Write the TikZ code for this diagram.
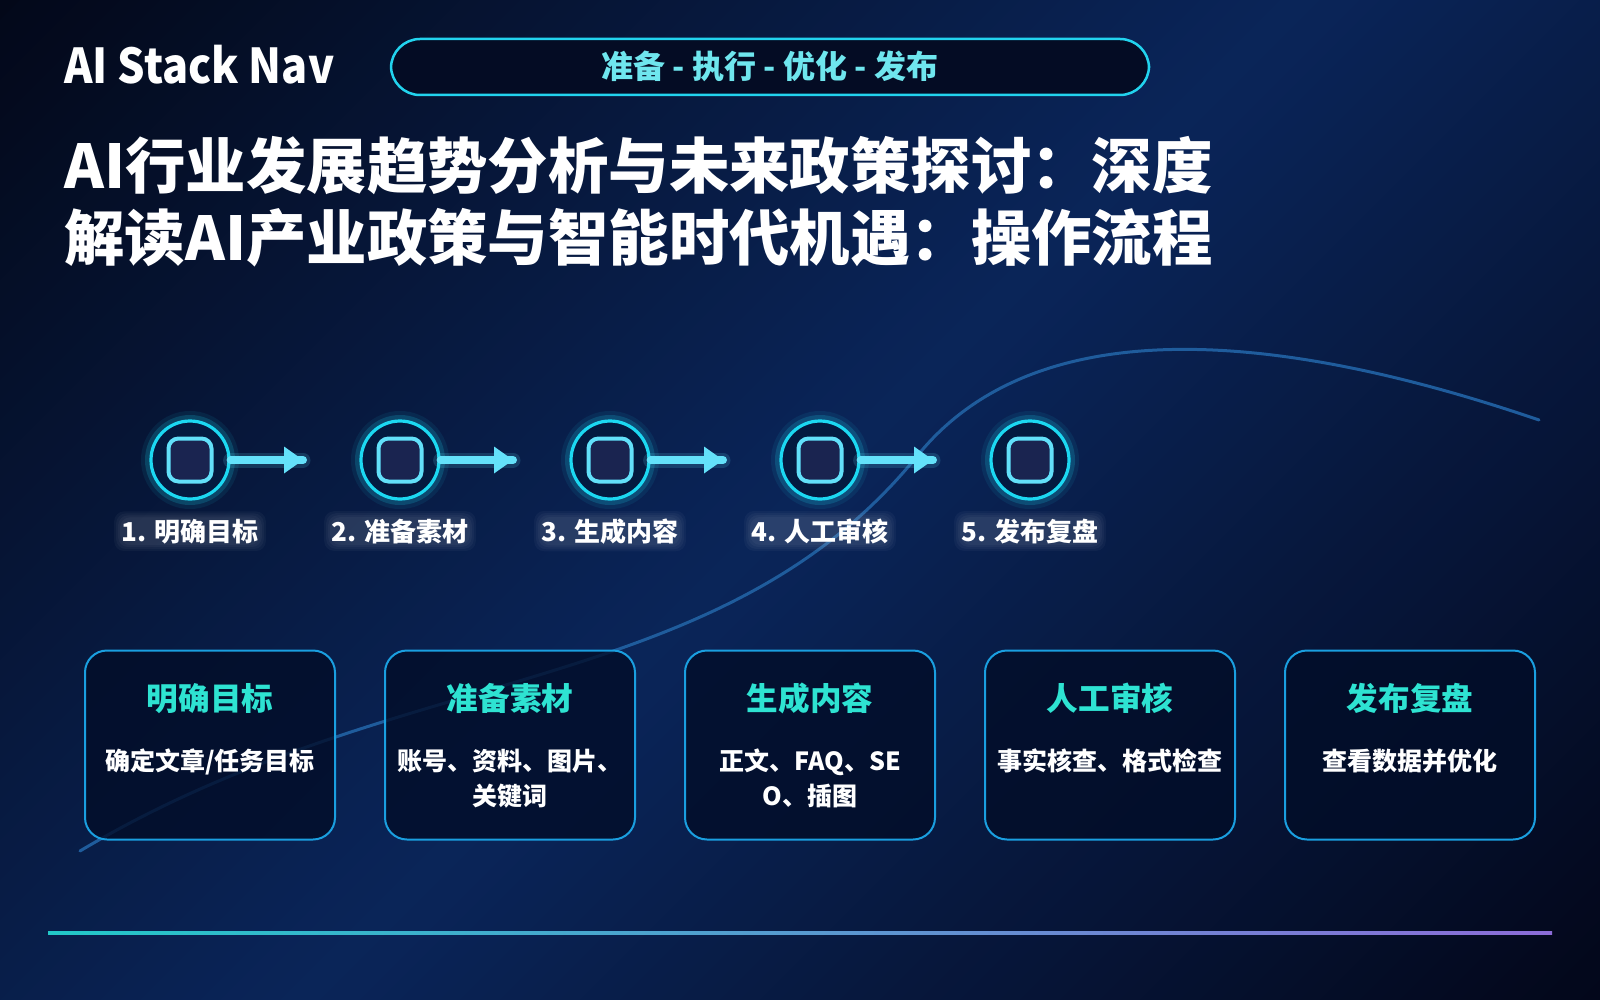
\documentclass[tikz,border=0pt]{standalone}
\usepackage{fontspec}
\setmainfont{Noto Sans CJK SC}
\newfontfamily\brandfont{Noto Sans CJK SC}[FakeStretch=0.9]
\usetikzlibrary{arrows.meta}
\definecolor{bgdark}{HTML}{030819}
\definecolor{bgblue}{HTML}{0A2559}
\definecolor{bgdarkb}{HTML}{03071A}
\definecolor{pillline}{HTML}{22D3EE}
\definecolor{pillfill}{HTML}{040C24}
\definecolor{pilltxt}{HTML}{6FE6EE}
\definecolor{ringcol}{HTML}{1CD8F2}
\definecolor{ringfill}{HTML}{041A40}
\definecolor{sqline}{HTML}{62E0FA}
\definecolor{sqfill}{HTML}{1A2450}
\definecolor{arrowcol}{HTML}{64E1FA}
\definecolor{boxline}{HTML}{1A9FE0}
\definecolor{boxfill}{HTML}{020D28}
\definecolor{boxtitlecol}{HTML}{2EE3D2}
\definecolor{curvecol}{HTML}{1F5C9C}
\definecolor{lineteal}{HTML}{22C8C8}
\definecolor{lineblue}{HTML}{3AA0DC}
\definecolor{linepurple}{HTML}{8C6CD8}
\begin{document}
\begin{tikzpicture}[x=0.5pt,y=-0.5pt,
  brand/.style={font=\brandfont\bfseries\fontsize{24}{29}\selectfont, text=white, inner sep=0pt, anchor=base west},
  headline/.style={font=\bfseries\fontsize{30.2}{36}\selectfont, text=white, inner sep=0pt, anchor=base west},
  pill/.style={rounded corners=14.5pt, draw=pillline, line width=1.25pt, fill=pillfill, minimum width=379pt, minimum height=28pt, inner sep=0pt},
  pilltext/.style={font=\bfseries\fontsize{16}{19}\selectfont, text=pilltxt, inner sep=0pt, anchor=base},
  ring/.style={circle, minimum size=39pt, line width=1.6pt, draw=ringcol, fill=ringfill, inner sep=0pt,
    preaction={draw=ringcol, line width=10pt, draw opacity=0.08},
    preaction={draw=ringcol, line width=6pt, draw opacity=0.18}},
  sq/.style={rectangle, rounded corners=5pt, minimum size=21.5pt, line width=2pt, draw=sqline, fill=sqfill, inner sep=0pt},
  arrowline/.style={draw=arrowcol, line width=4pt, line cap=round},
  arrowglow/.style={draw=arrowcol, line width=7.5pt, line cap=round, draw opacity=0.16},
  arrowhead/.style={fill=arrowcol},
  steplabel/.style={font=\bfseries\fontsize{13}{16}\selectfont, text=white, inner sep=0pt, anchor=base},
  haze/.style={fill=white, fill opacity=0.035, rounded corners=5pt},
  infobox/.style={rectangle, rounded corners=11pt, minimum width=125pt, minimum height=94.5pt, draw=boxline, line width=1pt, fill=boxfill, fill opacity=0.8, inner sep=0pt},
  boxtitle/.style={font=\bfseries\fontsize{15.8}{18}\selectfont, text=boxtitlecol, inner sep=0pt, anchor=base},
  boxdesc/.style={font=\bfseries\fontsize{12.5}{15}\selectfont, text=white, inner sep=0pt, anchor=base},
  curve/.style={draw=curvecol, line width=1.5pt, line cap=round}
]
\useasboundingbox (0,0) rectangle (1600,1000);
% background diagonal gradient
\begin{scope}
\clip (0,0) rectangle (1600,1000);
\foreach \i in {0,...,129}{
  \pgfmathsetmacro{\sa}{20*\i}
  \pgfmathsetmacro{\sb}{20*\i+22}
  \pgfmathsetmacro{\sc}{20*\i-1000}
  \pgfmathsetmacro{\sd}{20*\i-978}
  \ifnum\i<65
    \pgfmathsetmacro{\p}{(20*\i+10)/13}
    \fill[bgblue!\p!bgdark] (\sa,0) -- (\sb,0) -- (\sd,1000) -- (\sc,1000) -- cycle;
  \else
    \pgfmathsetmacro{\p}{(2590-20*\i)/13}
    \fill[bgblue!\p!bgdarkb] (\sa,0) -- (\sb,0) -- (\sd,1000) -- (\sc,1000) -- cycle;
  \fi
}
\end{scope}
% curve
\draw[curve] (80,851) .. controls (400,660) and (720,700) .. (918,455) .. controls (1040,305) and (1290,335) .. (1539,420);
% header
\node[brand] (brand) at (64,84) {AI Stack Nav};
\node[pill] (pill) at (770,67) {};
\node[pilltext] (pillt) at (770,79) {准备 - 执行 - 优化 - 发布};
\node[headline] (h1) at (64,189) {AI行业发展趋势分析与未来政策探讨：深度};
\node[headline] (h2) at (64,261) {解读AI产业政策与智能时代机遇：操作流程};
% steps
\foreach \i/\x in {1/190,2/400,3/610,4/820,5/1030}{
  \node[ring] (s\i) at (\x,460) {};
  \node[sq] (q\i) at (\x,460) {};
}
\foreach \i/\x in {1/303,2/513,3/723,4/933}{
  \coordinate (a\i) at (\x,460);
  \draw[arrowglow] (s\i.east) -- (a\i);
  \draw[arrowline] (s\i.east) -- (a\i);
  \fill[arrowhead] (a\i) -- ++(-19,-13.5) -- ++(0,27) -- cycle;
}
\foreach \i/\x/\t in {1/190/{1. 明确目标},2/400/{2. 准备素材},3/610/{3. 生成内容},4/820/{4. 人工审核},5/1030/{5. 发布复盘}}{
  \node[steplabel] (l\i) at (\x,541) {\t};
  \foreach \k in {1,3,5,7}{
    \fill[haze] ([shift={(-\k,\k)}]l\i.south west) rectangle ([shift={(\k,-\k)}]l\i.north east);
  }
}
% boxes
\node[infobox] (b1) at (210,745) {};
\node[infobox] (b2) at (510,745) {};
\node[infobox] (b3) at (810,745) {};
\node[infobox] (b4) at (1110,745) {};
\node[infobox] (b5) at (1410,745) {};
\node[boxtitle] (t1) at (210,710) {明确目标};
\node[boxtitle] (t2) at (510,710) {准备素材};
\node[boxtitle] (t3) at (810,710) {生成内容};
\node[boxtitle] (t4) at (1110,710) {人工审核};
\node[boxtitle] (t5) at (1410,710) {发布复盘};
\node[boxdesc] (d1) at (210,770) {确定文章/任务目标};
\node[boxdesc] (d2a) at (510,770) {账号、资料、图片、};
\node[boxdesc] (d2b) at (510,805) {关键词};
\node[boxdesc] (d3a) at (810,770) {正文、FAQ、SE};
\node[boxdesc] (d3b) at (810,805) {O、插图};
\node[boxdesc] (d4) at (1110,770) {事实核查、格式检查};
\node[boxdesc] (d5) at (1410,770) {查看数据并优化};
% bottom line
\shade[left color=lineteal, middle color=lineblue, right color=linepurple] (48,931) rectangle (1552,934);
\end{tikzpicture}
\end{document}
